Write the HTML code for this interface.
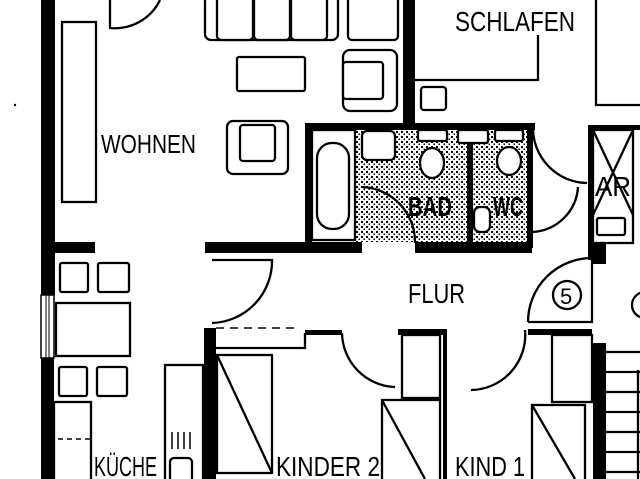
<!DOCTYPE html>
<html><head><meta charset="utf-8"><style>
html,body{margin:0;padding:0;background:#fff;}
svg{display:block;}
text{font-family:"Liberation Sans",sans-serif;fill:#000;}
</style></head><body>
<svg width="640" height="479" viewBox="0 0 640 479" xmlns="http://www.w3.org/2000/svg">
<defs>
<pattern id="tile" width="5" height="5" patternUnits="userSpaceOnUse">
<rect x="1" y="1" width="2" height="2" fill="#000"/>
<rect x="3.5" y="3.5" width="1.5" height="1.5" fill="#000"/>
</pattern>
</defs>
<g fill="#000">
<rect x="41" y="0" width="14" height="295"/>
<rect x="41" y="358" width="13" height="121"/>
<rect x="55" y="242" width="40" height="11"/>
<rect x="205" y="242" width="157" height="11"/>
<rect x="415" y="242" width="117" height="11"/>
<rect x="592" y="240" width="14" height="16"/>
<rect x="403" y="0" width="12" height="128"/>
<rect x="305" y="123" width="230" height="7"/>
<rect x="305" y="123" width="7" height="125"/>
<rect x="467" y="128" width="6" height="115"/>
<rect x="527" y="123" width="6" height="125"/>
<rect x="588" y="125" width="52" height="5"/>
<rect x="588" y="125" width="5" height="135"/>
<rect x="204" y="328" width="12" height="151"/>
<rect x="305" y="330" width="37" height="5"/>
<rect x="398" y="329" width="45" height="6"/>
<rect x="443" y="329" width="4" height="150"/>
<rect x="528" y="329" width="64" height="6"/>
<rect x="592" y="254" width="14" height="10"/>
<rect x="593" y="343" width="13" height="136"/>
<rect x="181" y="401" width="22" height="12"/>
</g>
<rect x="355" y="130" width="112" height="112" fill="url(#tile)"/>
<rect x="473" y="130" width="54" height="112" fill="url(#tile)"/>
<g fill="#fff" stroke="#000" stroke-width="2.3">
<rect x="41" y="295" width="13" height="63" stroke-width="1.5"/>
<line x1="46" y1="295" x2="46" y2="358" stroke-width="1"/>
<line x1="49" y1="295" x2="49" y2="358" stroke-width="1"/>
<rect x="62" y="22" width="34" height="180"/>
<rect x="205" y="-5" width="133" height="45" rx="6"/>
<rect x="217" y="-5" width="36" height="45" rx="4"/>
<rect x="254" y="-5" width="36" height="45" rx="4"/>
<rect x="291" y="-5" width="36" height="45" rx="4"/>
<rect x="348" y="-5" width="50" height="45" rx="4"/>
<rect x="237" y="57" width="68" height="34" rx="2"/>
<rect x="227" y="121" width="61" height="53" rx="6"/>
<rect x="240" y="125" width="35" height="36" rx="3"/>
<rect x="343" y="50" width="54" height="61" rx="7"/>
<rect x="343" y="62" width="40" height="37" rx="3"/>
<rect x="421" y="87" width="25" height="23" rx="3"/>
<rect x="312" y="130" width="43" height="110"/>
<rect x="317" y="143" width="32" height="86" rx="15"/>
<rect x="362" y="131" width="33" height="29" rx="5"/>
<rect x="418" y="130" width="29" height="11" rx="2"/>
<ellipse cx="432" cy="163" rx="12" ry="15"/>
<rect x="458" y="130" width="30" height="13" rx="2"/>
<rect x="495" y="130" width="28" height="11" rx="2"/>
<ellipse cx="509" cy="161" rx="12" ry="14"/>
<rect x="474" y="207" width="16" height="25" rx="6"/>
<rect x="593" y="130" width="40" height="113"/>
<rect x="597" y="218" width="28" height="17" rx="2"/>
<rect x="60" y="263" width="28" height="29" rx="2"/>
<rect x="98" y="263" width="31" height="29" rx="2"/>
<rect x="56" y="303" width="74" height="53"/>
<rect x="59" y="367" width="28" height="29" rx="2"/>
<rect x="97" y="367" width="30" height="29" rx="2"/>
<rect x="54" y="402" width="37" height="80"/>
<rect x="165" y="365" width="38" height="120"/>
<rect x="170" y="458" width="22" height="25" rx="4"/>
<rect x="217" y="355" width="55" height="118"/>
<rect x="402" y="335" width="38" height="63"/>
<rect x="382" y="400" width="58" height="85"/>
<rect x="552" y="335" width="40" height="67"/>
<rect x="532" y="405" width="53" height="80"/>
</g>
<g fill="none" stroke="#000" stroke-width="2.3">
<path d="M110 0 V28 A50 50 0 0 0 160 0"/>
<path d="M212 260 H272 A62 62 0 0 1 212 323"/>
<path d="M362 187 A55 55 0 0 1 415 243"/>
<path d="M533 127 A55 55 0 0 0 587 183 V183"/>
<path d="M532 232 A48 48 0 0 0 578 187"/>
<path d="M342 333 A55 55 0 0 0 395 387"/>
<path d="M525 330 A55 55 0 0 1 471 390"/>
<path d="M528 322 H592 V258 A64 64 0 0 0 528 322"/>
<circle cx="567" cy="295" r="14"/>
<circle cx="645" cy="305" r="13"/>
<path d="M415 80 H538 V35"/>
<path d="M596 0 V105 H640"/>
<path d="M593 130 L633 215 M633 130 L593 215"/>
<path d="M217 355 L272 473 M382 400 L425 479 M532 405 L575 479"/>
<path d="M216 348 H305 V333"/>
<path d="M216 328 H296" stroke-dasharray="8 6" stroke-width="1.5"/>
<path d="M58 439 H90" stroke-dasharray="5 4" stroke-width="1.5"/>
<path d="M172 432 V449 M178 432 V449 M184 432 V449 M190 432 V449" stroke-width="1.5"/>
<path d="M606 352 H640 M606 372 H640 M606 392 H640 M606 412 H640 M606 432 H640 M606 452 H640 M606 472 H640 M638 370 V479"/>
</g>
<circle cx="15" cy="105" r="1.2" fill="#000"/>
<g font-size="28">
<text x="455" y="31" textLength="120" lengthAdjust="spacingAndGlyphs">SCHLAFEN</text>
<text x="101" y="153" textLength="95" lengthAdjust="spacingAndGlyphs" font-size="26">WOHNEN</text>
<text x="408" y="303" textLength="57" lengthAdjust="spacingAndGlyphs">FLUR</text>
<text x="94" y="476" textLength="63" lengthAdjust="spacingAndGlyphs">KÜCHE</text>
<text x="276" y="476" textLength="104" lengthAdjust="spacingAndGlyphs">KINDER 2</text>
<text x="455" y="476" textLength="70" lengthAdjust="spacingAndGlyphs">KIND 1</text>
<text x="408" y="216" textLength="44" lengthAdjust="spacingAndGlyphs" font-weight="bold">BAD</text>
<text x="493" y="216" textLength="30" lengthAdjust="spacingAndGlyphs" font-weight="bold">WC</text>
<text x="595" y="196" textLength="36" lengthAdjust="spacingAndGlyphs">AR</text>
<text x="560" y="304" font-size="22">5</text>
</g>
</svg>
</body></html>
